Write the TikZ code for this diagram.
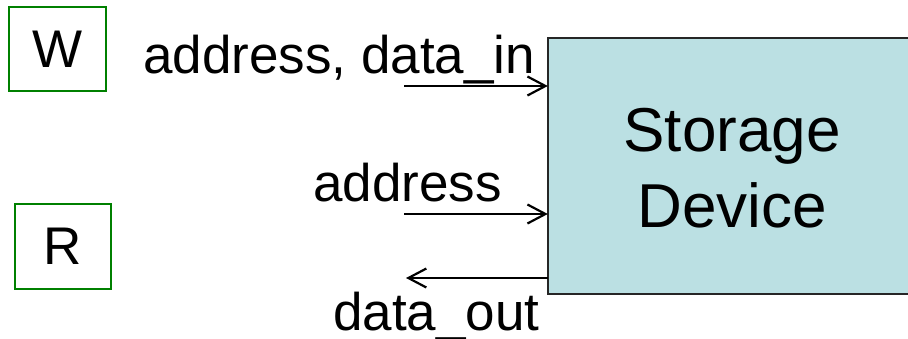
\documentclass[tikz,border=0pt]{standalone}
\usepackage{fontspec}
\setmainfont{Liberation Sans}
\usetikzlibrary{arrows.meta}
\definecolor{boxgreen}{RGB}{0,128,0}
\definecolor{devfill}{RGB}{187,224,227}
\begin{document}
\begin{tikzpicture}[x=1pt,y=-1pt,
  sig/.style={font=\fontsize{53pt}{60pt}\selectfont, inner sep=0pt, anchor=base west},
  modebox/.style={draw=boxgreen, line width=1.5pt, font=\fontsize{53pt}{60pt}\selectfont, inner sep=0pt},
  devbox/.style={fill=devfill, minimum width=420pt, minimum height=256pt, inner sep=0pt},
  devedge/.style={draw=black!85, line width=1.8pt},
  wire/.style={line width=2.2pt, -{Straight Barb[length=18pt,width=19pt]}}]
\useasboundingbox (0,0) rectangle (908,338);
\begin{scope}
\clip (0,0) rectangle (908,338);
\node[modebox, minimum width=97pt, minimum height=84pt] (W) at (57.5,49) {W};
\node[modebox, minimum width=96pt, minimum height=85pt] (R) at (63,246.5) {R};
\node[devbox] (dev) at (758,166) {};
\draw[devedge] (dev.north east) -- (dev.north west) -- (dev.south west) -- (dev.south east);
\node[font=\fontsize{62pt}{76pt}\selectfont, align=center, inner sep=0pt] (devtext) at (732,168) {Storage\\Device};
\node[sig] (lab1) at (143,73) {address, data\_in};
\node[sig] (lab2) at (313,201) {address};
\node[sig] (lab3) at (333,330) {data\_out};
\coordinate (a1) at (404,86);
\coordinate (a2) at (404,214);
\coordinate (a3) at (406,278);
\draw[wire] (a1) -- (a1 -| dev.west);
\draw[wire] (a2) -- (a2 -| dev.west);
\draw[wire] (a3 -| dev.west) -- (a3);
\end{scope}
\end{tikzpicture}
\end{document}
